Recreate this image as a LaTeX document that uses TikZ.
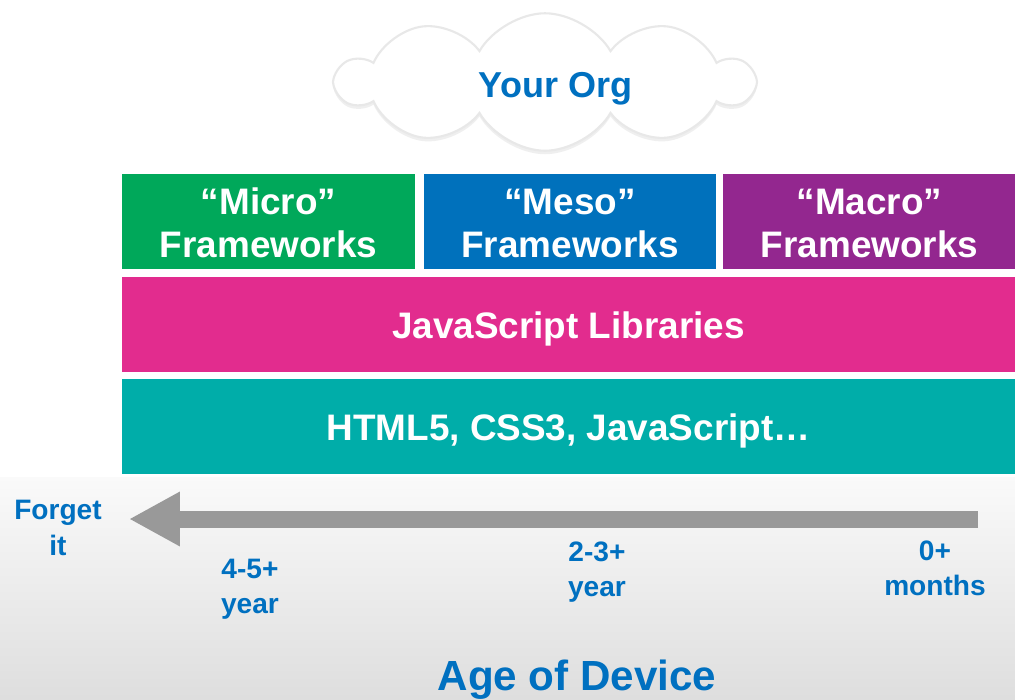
\documentclass[tikz,border=0pt]{standalone}
\usepackage{fontspec}
\setmainfont{Liberation Sans}
\usetikzlibrary{positioning,shapes.symbols,shadows,arrows.meta}
\definecolor{orgblue}{HTML}{0070C0}
\definecolor{microgreen}{HTML}{00A85A}
\definecolor{mesoblue}{HTML}{0071BC}
\definecolor{macropurple}{HTML}{93278F}
\definecolor{libpink}{HTML}{E22C8E}
\definecolor{webteal}{HTML}{00ADA9}
\definecolor{arrowgray}{HTML}{999999}
\newcommand{\lowered}[2]{\raisebox{-#1}[\height][\depth]{#2}}
\begin{document}
\begin{tikzpicture}[x=0.02cm,y=-0.02cm,
  layer/.style={draw=none,rectangle,inner sep=0pt,text=white,align=center,minimum height=1.9cm,font=\fontsize{21}{24.5}\selectfont\bfseries},
  age/.style={text=orgblue,align=center,font=\fontsize{16}{20}\selectfont\bfseries}]
\useasboundingbox (0,0) rectangle (1015,700);
\fill[white] (0,0) rectangle (1015,700);
\shade[top color=white!98!black,bottom color=white!87!black,draw=none] (0,477) rectangle (1015,700);
% cloud
\node[cloud,cloud puffs=10,cloud puff arc=120,aspect=3.1,fill=white,draw=black!9,line width=1.2pt,
  minimum width=8.3cm,minimum height=2.75cm,text=orgblue,
  font=\fontsize{20.5}{24}\selectfont\bfseries,
  drop shadow={shadow xshift=0pt,shadow yshift=-2pt,opacity=.12,fill=gray}] (org) at (545,82) {\hspace{12pt}\lowered{4pt}{Your Org}};
% frameworks
\foreach \x/\c/\n/\t in {268.5/microgreen/micro/Micro,570/mesoblue/meso/Meso,869.5/macropurple/macro/Macro} {
  \node[layer,fill=\c,minimum width=5.86cm] (\n) at (\x,221.5) {\lowered{1pt}{“\t”}\\\lowered{1pt}{Frameworks}};
}
\node[layer,fill=libpink,minimum width=17.86cm] (libs) at (568.5,324.5) {\lowered{2.5pt}{JavaScript Libraries}};
\node[layer,fill=webteal,minimum width=17.86cm] (web) at (568.5,426.5) {\lowered{2.5pt}{HTML5, CSS3, JavaScript…}};
% age arrow
\coordinate (astart) at (978,519);
\coordinate (atip) at (129,519);
\draw[arrowgray,line width=0.34cm,-{Triangle[length=1.02cm,width=1.02cm]}] (astart) -- (atip);
\node[age] (forget) at (58,528) {Forget\\it};
\node[age] (old) at (250,589) {4-5+\\year};
\node[age] (mid) at (597,572) {2-3+\\year};
\node[age] (new) at (935,568) {0+\\months};
\node[text=orgblue,font=\fontsize{24}{28}\selectfont\bfseries] (axis) at (577,680) {Age of Device};
\end{tikzpicture}
\end{document}
